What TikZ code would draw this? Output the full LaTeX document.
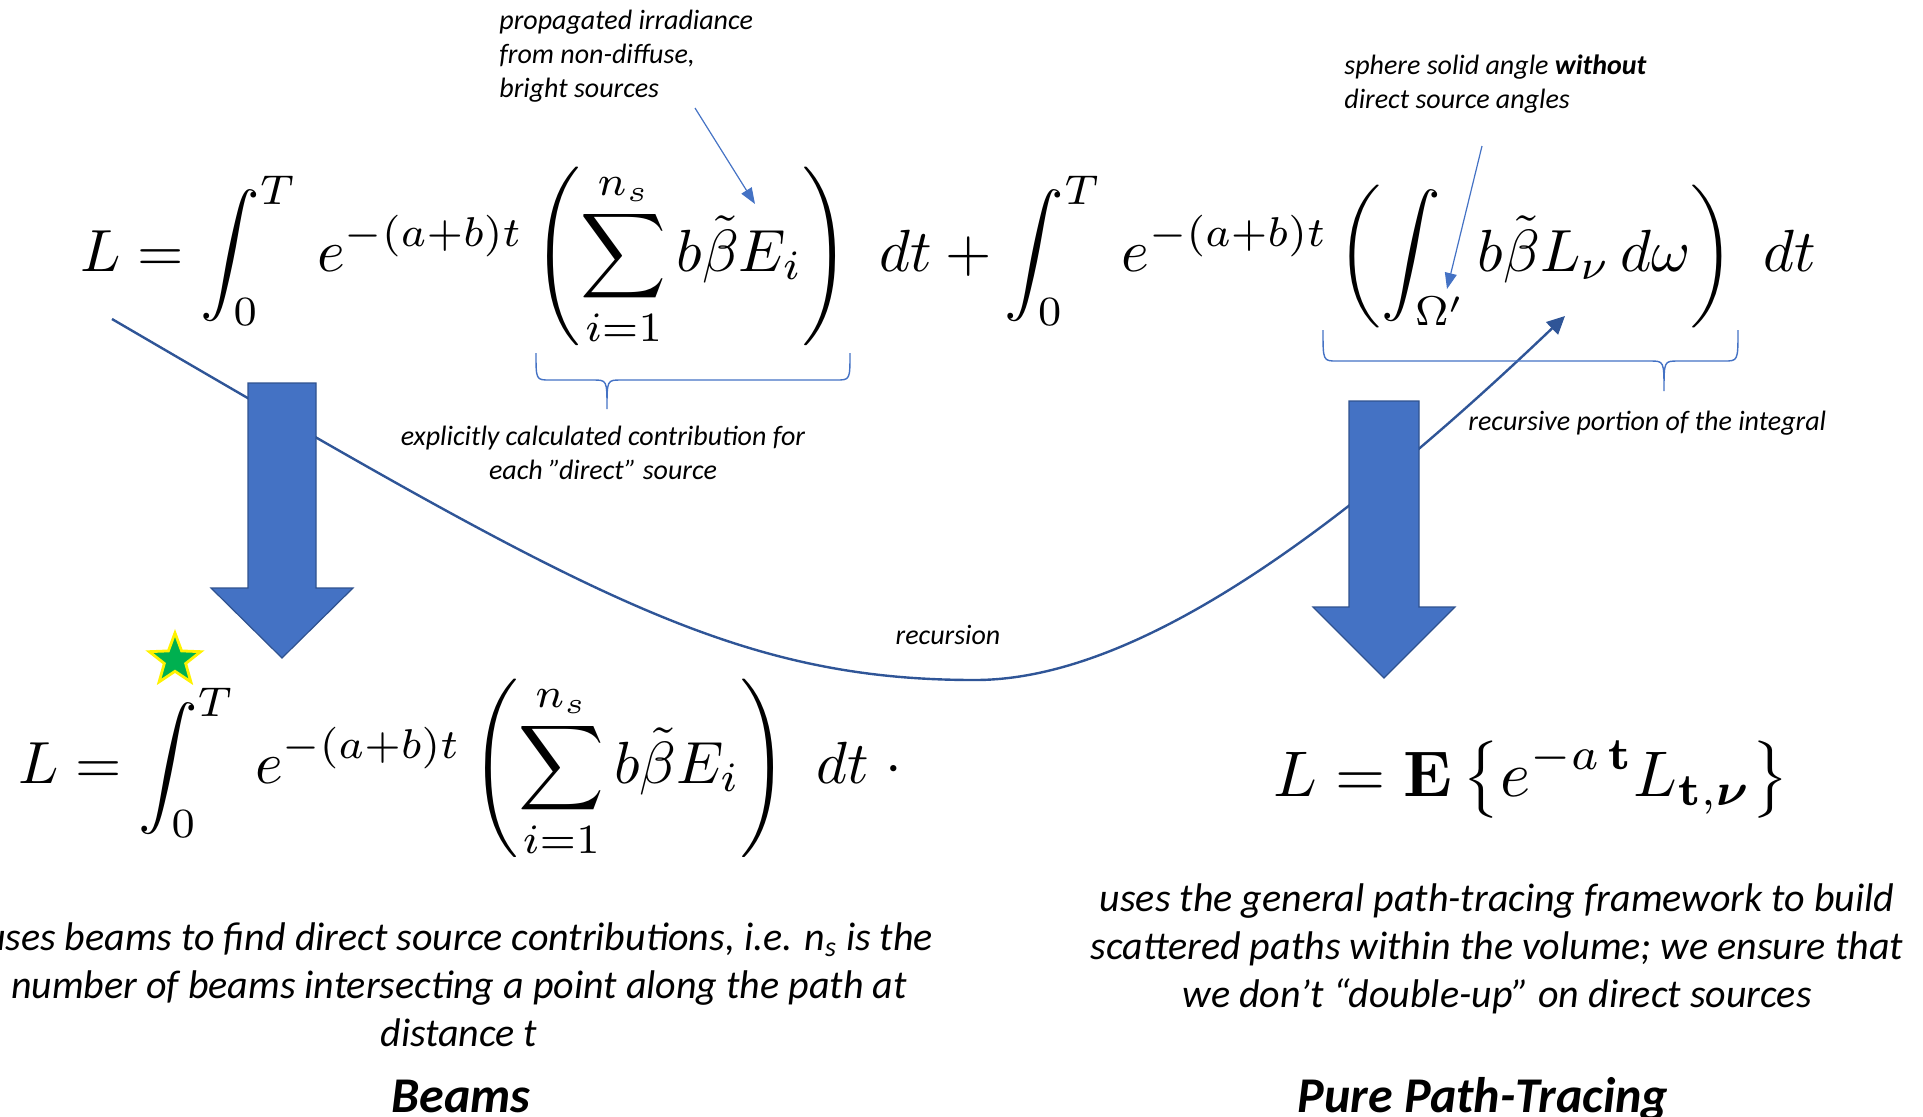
\documentclass[tikz,border=0pt]{standalone}
\usepackage{amsmath,amssymb}
\usepackage{graphicx}
\usepackage[no-math]{fontspec}
\newfontfamily\notefont{Carlito}
\usepackage{xcolor}
\usepackage{tikz}
\usetikzlibrary{arrows.meta,shapes.geometric}

\definecolor{officeblue}{HTML}{4472C4}
\definecolor{officeedge}{HTML}{2F528F}
\definecolor{recblue}{HTML}{2F5597}
\definecolor{stargreen}{HTML}{00B050}

\begin{document}
\begin{tikzpicture}[
    x=0.5pt, y=-0.5pt,
    note/.style={font={\notefont\itshape\fontsize{14}{17}\selectfont}, inner sep=0pt, align=left},
    desc/.style={font={\notefont\itshape\fontsize{20}{24}\selectfont}, inner sep=0pt, align=center},
    headline/.style={font={\notefont\bfseries\itshape\fontsize{25}{30}\selectfont}, inner sep=0pt, anchor=base},
    eqn/.style={inner sep=0pt, anchor=base west},
    bigarrow/.style={fill=officeblue, draw=officeedge, line width=0.6pt},
    pointer/.style={-{Triangle[length=8pt,width=6pt]}, draw=officeblue, line width=0.6pt},
    curlybrace/.style={draw=officeblue, line width=0.7pt},
    recurse/.style={-{Triangle[length=9pt,width=8.5pt]}, draw=recblue, line width=1.2pt}
]
\useasboundingbox (0,0) rectangle (1923,1116);

% recursion loop, behind the block arrows
\coordinate (recstart) at (112,319);
\coordinate (recend) at (1565,316);
\draw[recurse] (recstart) .. controls (580,592) and (730,680) .. (975,680)
    .. controls (1130,680) and (1326,544) .. (recend);

% block arrows
\path[bigarrow] (248,383) -- (316,383) -- (316,588) -- (353,588) -- (282,658) -- (211,588) -- (248,588) -- cycle;
\path[bigarrow] (1349,401) -- (1419,401) -- (1419,607) -- (1455,607) -- (1384,678) -- (1313,607) -- (1349,607) -- cycle;

% equations
\node[eqn] (topeq) at (80,271) {\resizebox{868pt}{!}{$\displaystyle L = \int_0^T\, e^{-(a+b)t} \left(\sum_{i=1}^{n_s} b\tilde{\beta}E_i\right)\ dt + \int_0^T\, e^{-(a+b)t} \left(\int_{\Omega'} b\tilde{\beta}L_{\nu}\, d\omega\right)\ dt$}};
\node[eqn] (beameq) at (18,783) {\resizebox{442pt}{!}{$\displaystyle L = \int_0^T\, e^{-(a+b)t} \left(\sum_{i=1}^{n_s} b\tilde{\beta}E_i\right)\ dt\;{\cdot}$}};
\node[eqn] (patheq) at (1273,796) {\resizebox{258pt}{!}{$\displaystyle L = \mathbf{E}\left\{e^{-a\,\mathbf{t}}L_{\mathbf{t},\boldsymbol{\nu}}\right\}$}};

\node[star, star points=5, star point ratio=2.4, minimum size=27pt, inner sep=0pt,
      fill=stargreen, draw=yellow, line width=1.4pt] (beamstar) at (175,660) {};

% braces under the two brackets
\draw[curlybrace] (536,353) .. controls (536,380) .. (550,380) -- (593,380) .. controls (607,380) .. (607,409)
    .. controls (607,380) .. (621,380) -- (836,380) .. controls (850,380) .. (850,353);
\draw[curlybrace] (1323,330) .. controls (1323,361) .. (1337,361) -- (1650,361) .. controls (1664,361) .. (1664,391)
    .. controls (1664,361) .. (1678,361) -- (1724,361) .. controls (1738,361) .. (1738,330);

% annotations
\node[note, anchor=west] (irrnote) at (499,56) {propagated irradiance\\from non-diffuse,\\bright sources};
\node[note, anchor=west] (solidnote) at (1344,84) {sphere solid angle \textbf{without}\\direct source angles};
\node[note, align=center] (directnote) at (603,453) {explicitly calculated contribution for\\each ”direct” source};
\node[note, anchor=west] (recnote) at (1468,423) {recursive portion of the integral};
\node[note] (reclabel) at (948,635) {recursion};

\coordinate (irrtail) at (695,108);
\coordinate (irrhead) at (755,204);
\draw[pointer] (irrtail) -- (irrhead);
\coordinate (solidtail) at (1482,146);
\coordinate (solidhead) at (1447,289);
\draw[pointer] (solidtail) -- (solidhead);

% descriptions and titles
\node[desc] (beamdesc) at (459,985) {uses beams to find direct source contributions, i.e. n\textsubscript{s} is the\\number of beams intersecting a point along the path at\\distance t};
\node[desc] (pathdesc) at (1497,949) {uses the general path-tracing framework to build\\scattered paths within the volume; we ensure that\\we don’t “double-up” on direct sources};
\node[headline] (beamtitle) at (461,1112) {Beams};
\node[headline] (pathtitle) at (1483,1112) {Pure Path-Tracing};
\end{tikzpicture}
\end{document}
